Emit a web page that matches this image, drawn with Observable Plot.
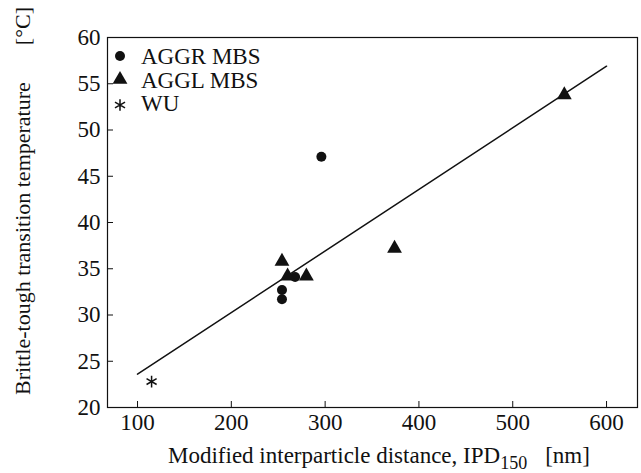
<!DOCTYPE html>
<html>
<head>
<meta charset="utf-8">
<script src="https://cdn.jsdelivr.net/npm/d3@7"></script>
<script src="https://cdn.jsdelivr.net/npm/@observablehq/plot@0.6"></script>
<style>
  html, body { margin: 0; padding: 0; background: #fff; }
  svg, svg text, svg tspan { font-family: "Liberation Serif", "DejaVu Serif", serif !important; }
</style>
</head>
<body>
<div id="chart"></div>
<script>
// Data
const aggrX = [296, 254, 254, 268];
const aggrY = [47.1, 32.7, 31.7, 34.1];
const agglX = [254, 260, 280, 374, 555];
const agglY = [35.8, 34.2, 34.2, 37.2, 53.8];
const wuX = [115];
const wuY = [22.8];
const fitX = [100, 600];
const fitY = [23.6, 56.9];
const xTicks = [100, 200, 300, 400, 500, 600];
const yTicks = [20, 25, 30, 35, 40, 45, 50, 55, 60];
const legendLabels = ["AGGR MBS", "AGGL MBS", "WU"];
const legendSymbols = ["circle", "triangle", "asterisk"];
const xTitle = "Modified interparticle distance, IPD";
const xTitleSub = "150";
const xTitleUnit = "[nm]";
const yTitle = "Brittle-tough transition temperature";
const yTitleUnit = "[°C]";

const aggr = aggrX.map((x, i) => ({x, y: aggrY[i]}));
const aggl = agglX.map((x, i) => ({x, y: agglY[i]}));
const wu = wuX.map((x, i) => ({x, y: wuY[i]}));
const fit = fitX.map((x, i) => ({x, y: fitY[i]}));

const FONT = "'Liberation Serif', 'DejaVu Serif', serif";
const symbolPath = {
  circle: d3.symbol(d3.symbolCircle, Math.PI * 5 * 5)(),
  triangle: d3.symbol(d3.symbolTriangle, Math.PI * 5.5 * 5.5)(),
  asterisk: d3.symbol(d3.symbolAsterisk, Math.PI * 5.5 * 5.5)()
};

function legendMark(index, scales, values, dims) {
  const g = d3.create("svg:g").attr("fill", "#111").attr("font-family", FONT);
  legendLabels.forEach((label, j) => {
    const y = dims.marginTop + 19 + j * 23.5;
    const s = legendSymbols[j];
    g.append("path").attr("d", symbolPath[s])
      .attr("transform", `translate(${dims.marginLeft + 13},${y + (s === "asterisk" ? 2 : 0)})`)
      .attr("fill", s === "asterisk" ? "none" : "#111")
      .attr("stroke", s === "asterisk" ? "#111" : "none")
      .attr("stroke-width", 1.5);
    g.append("text").attr("x", dims.marginLeft + 34).attr("y", y).attr("dy", "0.35em")
      .attr("text-anchor", "start").attr("font-size", 23).text(label);
  });
  return g.node();
}

function titlesMark(index, scales, values, dims) {
  const g = d3.create("svg:g").attr("fill", "#111").attr("font-family", FONT);
  const t = g.append("text").attr("x", 168).attr("y", 463).attr("text-anchor", "start").attr("font-size", 23);
  t.append("tspan").text(xTitle);
  t.append("tspan").attr("dy", 6).attr("font-size", 18).text(xTitleSub);
  t.append("tspan").attr("dy", -6).attr("dx", 18).text(xTitleUnit);
  g.append("text").attr("transform", "translate(30,395) rotate(-90)").attr("text-anchor", "start").attr("font-size", 22).text(yTitle);
  g.append("text").attr("transform", "translate(30,7) rotate(-90)").attr("text-anchor", "end").attr("font-size", 22).text(yTitleUnit);
  return g.node();
}

const chart = Plot.plot({
  width: 641,
  height: 473,
  marginLeft: 107,
  marginRight: 4,
  marginTop: 37,
  marginBottom: 66,
  style: {fontFamily: FONT, fontSize: "23px", color: "#111", background: "#fff"},
  x: {domain: [68, 633]},
  y: {domain: [20, 60]},
  marks: [
    Plot.frame({stroke: "#111", strokeWidth: 1.2}),
    Plot.axisX({ticks: xTicks, tickSize: -6, tickPadding: 12, tickFormat: d => d, label: null, fontSize: 23}),
    Plot.axisY({ticks: yTicks, tickSize: -6, tickPadding: 13, tickFormat: d => d, label: null, fontSize: 23}),
    Plot.line(fit, {x: "x", y: "y", stroke: "#111", strokeWidth: 1.5}),
    Plot.dot(aggr, {x: "x", y: "y", symbol: "circle", r: 5, fill: "#111"}),
    Plot.dot(aggl, {x: "x", y: "y", symbol: "triangle", r: 5.5, fill: "#111"}),
    Plot.dot(wu, {x: "x", y: "y", symbol: "asterisk", r: 5.5, stroke: "#111", strokeWidth: 1.5}),
    legendMark,
    titlesMark
  ]
});
document.getElementById("chart").append(chart);
</script>
</body>
</html>
